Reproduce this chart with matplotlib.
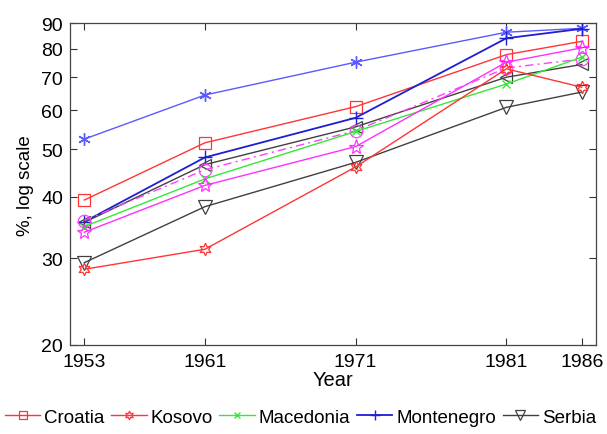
import matplotlib.pyplot as plt
from matplotlib.ticker import FixedLocator, NullLocator

plt.rcParams['font.family'] = ['Liberation Sans', 'DejaVu Sans']

years = [1953, 1961, 1971, 1981, 1986]

# named series (legend shows these five)
croatia = [39.4, 51.5, 61.0, 77.8, 82.8]
kosovo = [28.5, 31.3, 46.0, 72.8, 66.8]
macedonia = [34.8, 43.5, 54.3, 67.8, 76.9]
montenegro = [35.6, 48.1, 57.9, 84.0, 87.8]
serbia = [29.4, 38.2, 47.0, 60.8, 65.3]

# unlabelled series (their legend entries are cut off in the source)
blue_asterisk = [52.4, 64.4, 75.1, 86.4, 88.0]
black_left_tri = [35.5, 46.5, 55.5, 70.0, 74.3]
magenta_circle = [35.8, 45.4, 54.5, 73.1, 76.2]
magenta_star = [33.9, 42.2, 50.6, 75.1, 80.3]

y_ticks = [20, 30, 40, 50, 60, 70, 80, 90]

fig = plt.figure(figsize=(6.07, 4.35), dpi=100)
ax = fig.add_axes([0.1153, 0.2046, 0.8667, 0.7391])

ax.plot(years, blue_asterisk, color='#5a5aff', lw=1.0, marker=(6, 2, 0), ms=9, mew=1.0)
ax.plot(years, croatia, color='#ff3535', lw=1.0, marker='s', ms=8, mfc='none', mew=0.9, label='Croatia')
ax.plot(years, montenegro, color='#1e1ed2', lw=1.3, marker='+', ms=10, mew=1.0, label='Montenegro')
ax.plot(years, black_left_tri, color='#404040', lw=1.0, marker='<', ms=9, mfc='none', mew=0.9)
ax.plot(years, magenta_circle, color='#ff40ff', lw=1.0, ls=(0, (6, 3, 1.5, 3)), marker='o', ms=9,
        mfc='none', mew=0.9)
ax.plot(years, macedonia, color='#35e835', lw=1.0, marker='x', ms=6, mew=1.0, label='Macedonia')
ax.plot(years, magenta_star, color='#ff30ff', lw=1.0, marker='*', ms=11, mfc='none', mew=0.9)
ax.plot(years, serbia, color='#404040', lw=1.0, marker='v', ms=10, mfc='none', mew=0.9, label='Serbia')
ax.plot(years, kosovo, color='#ff3535', lw=1.0, marker=(6, 1, 0), ms=9, mfc='none', mew=0.9,
        label='Kosovo')

ax.set_yscale('log')
ax.set_ylim(20, 90)
ax.set_xlim(1952.05, 1986.95)
ax.yaxis.set_major_locator(FixedLocator(y_ticks))
ax.yaxis.set_minor_locator(NullLocator())
ax.set_yticklabels([str(t) for t in y_ticks])
ax.set_xticks(years)
ax.set_xticklabels([str(y) for y in years])

ax.tick_params(direction='in', length=5, width=0.8, top=True, right=True,
               labelsize=14, colors='#333333', labelcolor='black')
ax.tick_params(axis='x', pad=6)
ax.tick_params(axis='y', pad=5)
for s in ax.spines.values():
    s.set_color('#444444')
    s.set_linewidth(0.9)

ax.set_xlabel('Year', fontsize=14.5, labelpad=0)
ax.set_ylabel('%, log scale', fontsize=13.5, labelpad=5)

handles, labels = ax.get_legend_handles_labels()
order = ['Croatia', 'Kosovo', 'Macedonia', 'Montenegro', 'Serbia']
hmap = dict(zip(labels, handles))
fig.legend([hmap[k] for k in order], order, loc='center', bbox_to_anchor=(0.495, 0.038),
           ncol=5, frameon=False, fontsize=13.5, handlelength=1.9, columnspacing=0.35,
           handletextpad=0.2, markerscale=0.7)

fig.savefig('out.png', dpi=100)
